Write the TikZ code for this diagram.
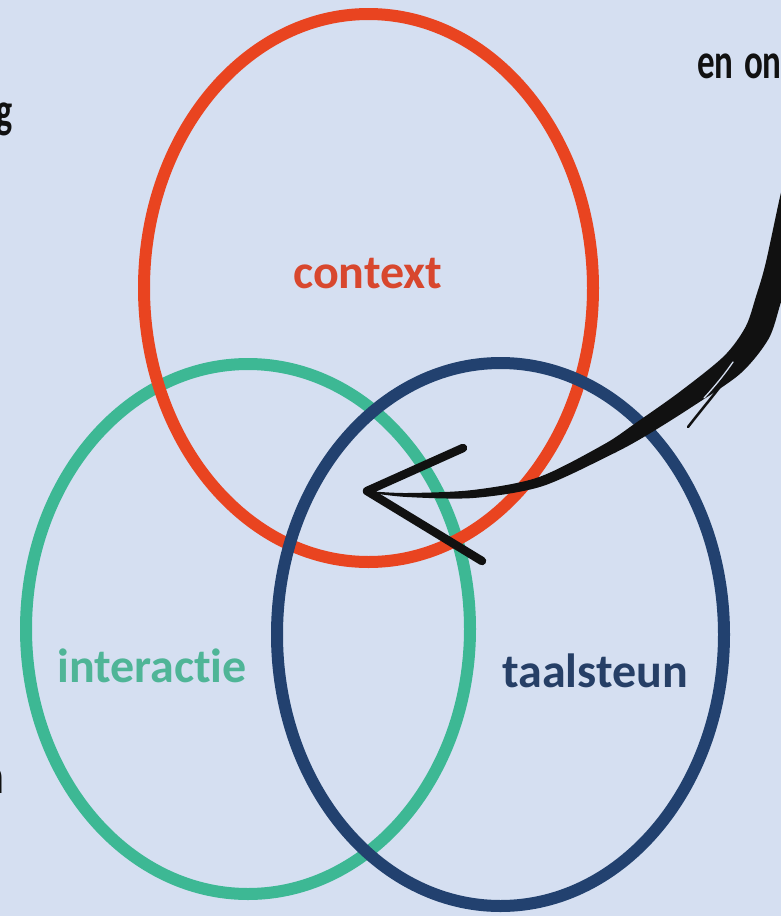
\documentclass[tikz,border=0pt]{standalone}
\usepackage{fontspec}
\setmainfont{Carlito}[Ligatures={NoCommon}]
\definecolor{bgc}{HTML}{D5DFF1}
\definecolor{ringred}{HTML}{E94420}
\definecolor{ringgreen}{HTML}{3DB894}
\definecolor{ringblue}{HTML}{22416F}
\definecolor{txtred}{HTML}{D8472E}
\definecolor{txtgreen}{HTML}{4FB597}
\definecolor{txtblue}{HTML}{263F66}
\definecolor{ink}{HTML}{111111}
\begin{document}
\begin{tikzpicture}[x=1pt,y=-1pt,
  ring/.style={line width=12pt},
  lbl/.style={inner sep=0pt, font=\bfseries\fontsize{48pt}{50pt}\selectfont},
  cut/.style={inner sep=0pt, text=ink, font=\bfseries\fontsize{50pt}{52pt}\selectfont},
  brush/.style={fill=ink},
  head/.style={draw=ink, line width=8.5pt, line cap=round, line join=round}]
\useasboundingbox (0,0) rectangle (781,916);
\fill[bgc] (0,0) rectangle (781,916);
\begin{scope}
\clip (0,0) rectangle (781,916);
% ring centres
\coordinate (cInteractie) at (248,629);
\coordinate (cContext) at (368.5,288);
\coordinate (cTaalsteun) at (500.5,634.5);
\draw[ring, ringgreen] (cInteractie) ellipse [x radius=222, y radius=265];
\draw[ring, ringred] (cContext) ellipse [x radius=224.5, y radius=274];
\draw[ring, ringblue] (cTaalsteun) ellipse [x radius=223.5, y radius=271.5];
% labels
\node[lbl, text=txtred, anchor=base west] (context) at (293,288) {context};
\node[lbl, text=txtgreen, anchor=base west] (interactie) at (57,682) {interact\kern0pt ie};
\node[lbl, text=txtblue, anchor=base west] (taalsteun) at (502,687) {taalsteun};
% cut-off texts at the edges
\node[cut, anchor=base west] (enon) at (697,78) {\scalebox{0.7}[1]{en\hspace{0.3em}on}};
\node[cut, anchor=base east] (gcut) at (12.5,127) {\scalebox{0.68}[1]{g}};
\node[cut, anchor=base east] (ncut) at (3.5,793) {\scalebox{0.68}[1]{n}};
% brush arrow
\coordinate (tail) at (800,160);
\coordinate (tip) at (367,491);
\fill[brush] plot[smooth] coordinates {(370.06,491.2) (407.03,493) (472.66,490) (538.6,477.2) (604.2,444.2) (635.7,423.0) (679.5,392.0) (723.8,356.3) (745.5,327.0) (756,296.4) (765.5,263.9) (780,196.8) (790,156.6)}
  -- plot[smooth] coordinates {(817,163.4) (807,203.2) (791,270.1) (780.5,303.6) (768.5,339.0) (740.2,373.7) (690.5,407.8) (644.3,436.7) (609.8,455.3) (541.4,486.5) (473.34,498) (406.97,497) (369.94,492.8)} -- cycle;
\draw[ink, line width=2.5pt, line cap=round] (738,362) .. controls (725,382) and (705,405) .. (688,427);
\draw[bgc, line width=1.3pt, line cap=round] (733,362) .. controls (724,375) and (715,386) .. (704,398);
\draw[head] (463,448) -- (tip) -- (482,561);
\end{scope}
\end{tikzpicture}
\end{document}
